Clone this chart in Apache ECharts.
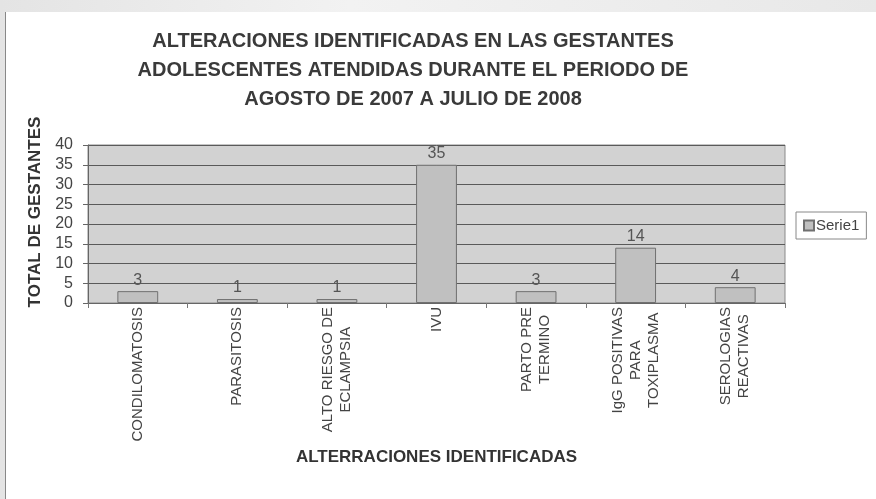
<!DOCTYPE html>
<html>
<head>
<meta charset="utf-8">
<script src="https://cdn.jsdelivr.net/npm/echarts@6/dist/echarts.min.js"></script>
<style>
html,body{margin:0;padding:0;width:876px;height:499px;overflow:hidden;background:linear-gradient(90deg,#e4e4e4,#f2f2f2 40%,#e8e8e8);}
#frame{position:absolute;left:5px;top:12px;width:871px;height:487px;background:#fff;border-left:1px solid #888;}
#chart{position:absolute;left:0;top:0;width:876px;height:499px;}
</style>
</head>
<body>
<div id="frame"></div>
<div id="chart"></div>
<script>
const titleLines = [
  'ALTERACIONES IDENTIFICADAS EN LAS GESTANTES',
  'ADOLESCENTES ATENDIDAS DURANTE EL PERIODO DE',
  'AGOSTO DE 2007 A JULIO DE 2008'
];
const categories = [
  ['CONDILOMATOSIS'],
  ['PARASITOSIS'],
  ['ALTO RIESGO DE', 'ECLAMPSIA'],
  ['IVU'],
  ['PARTO PRE', 'TERMINO'],
  ['IgG POSITIVAS', 'PARA', 'TOXIPLASMA'],
  ['SEROLOGIAS', 'REACTIVAS']
];
const serie1 = [3, 1, 1, 35, 3, 14, 4];
const seriesName = 'Serie1';
const yAxisName = 'TOTAL DE GESTANTES';
const xAxisName = 'ALTERRACIONES IDENTIFICADAS';
const yTicks = [0, 5, 10, 15, 20, 25, 30, 35, 40];

const chart = echarts.init(document.getElementById('chart'));
const font = '"Liberation Sans", Arial, sans-serif';
chart.setOption({
  backgroundColor: 'transparent',
  animation: false,
  textStyle: { fontFamily: font },
  title: {
    text: titleLines.join('\n'),
    left: 408, top: 22, textAlign: 'center',
    textStyle: { fontFamily: font, fontSize: 20, fontWeight: 'bold', color: '#3a3a3a', lineHeight: 29 }
  },
  legend: {
    data: [seriesName],
    left: 796, top: 212,
    orient: 'vertical',
    borderColor: '#888', borderWidth: 1, borderRadius: 0,
    padding: [6, 7, 6, 7],
    itemWidth: 10, itemHeight: 10, itemGap: 4,
    icon: 'rect',
    textStyle: { fontFamily: font, fontSize: 15, color: '#444', padding: [0, 0, 0, -3] }
  },
  grid: {
    left: 88, right: 91, top: 145, bottom: 196,
    show: true, backgroundColor: '#d2d2d2', borderColor: '#8a8a8a', borderWidth: 1
  },
  xAxis: {
    type: 'category',
    data: categories.map(c => c.map(l => '{c|' + l + '}').join('\n')),
    name: xAxisName, nameLocation: 'middle', nameGap: 146,
    nameTextStyle: { fontFamily: font, fontSize: 17, fontWeight: 'bold', color: '#333' },
    axisLine: { lineStyle: { color: '#666' } },
    axisTick: { show: true, alignWithLabel: false, length: 5, lineStyle: { color: '#777' } },
    axisLabel: {
      interval: 0, rotate: 90, margin: 4,
      color: '#444', fontSize: 15, fontFamily: font, lineHeight: 18,
      rich: { c: { align: 'center', fontSize: 15, fontFamily: font, color: '#444', lineHeight: 18 } }
    }
  },
  yAxis: {
    type: 'value', min: 0, max: 40, interval: 5,
    name: yAxisName, nameLocation: 'middle', nameGap: 44,
    nameTextStyle: { fontFamily: font, fontSize: 17, fontWeight: 'bold', color: '#333', padding: [0, 0, 0, 24] },
    axisLine: { show: true, lineStyle: { color: '#666' } },
    axisTick: { show: true, length: 5, lineStyle: { color: '#666' } },
    axisLabel: {
      margin: 15, color: '#444', fontSize: 16, fontFamily: font,
      formatter: v => yTicks.includes(v) ? String(v) : ''
    },
    splitLine: { show: true, lineStyle: { color: '#5a5a5a', width: 1 } }
  },
  series: [{
    name: seriesName,
    type: 'bar',
    data: serie1,
    barWidth: '41%',
    itemStyle: { color: '#c0c0c0', borderColor: '#707070', borderWidth: 1 },
    label: { show: true, position: 'top', distance: 3, color: '#555', fontSize: 16, fontFamily: font }
  }]
});
</script>
</body>
</html>
